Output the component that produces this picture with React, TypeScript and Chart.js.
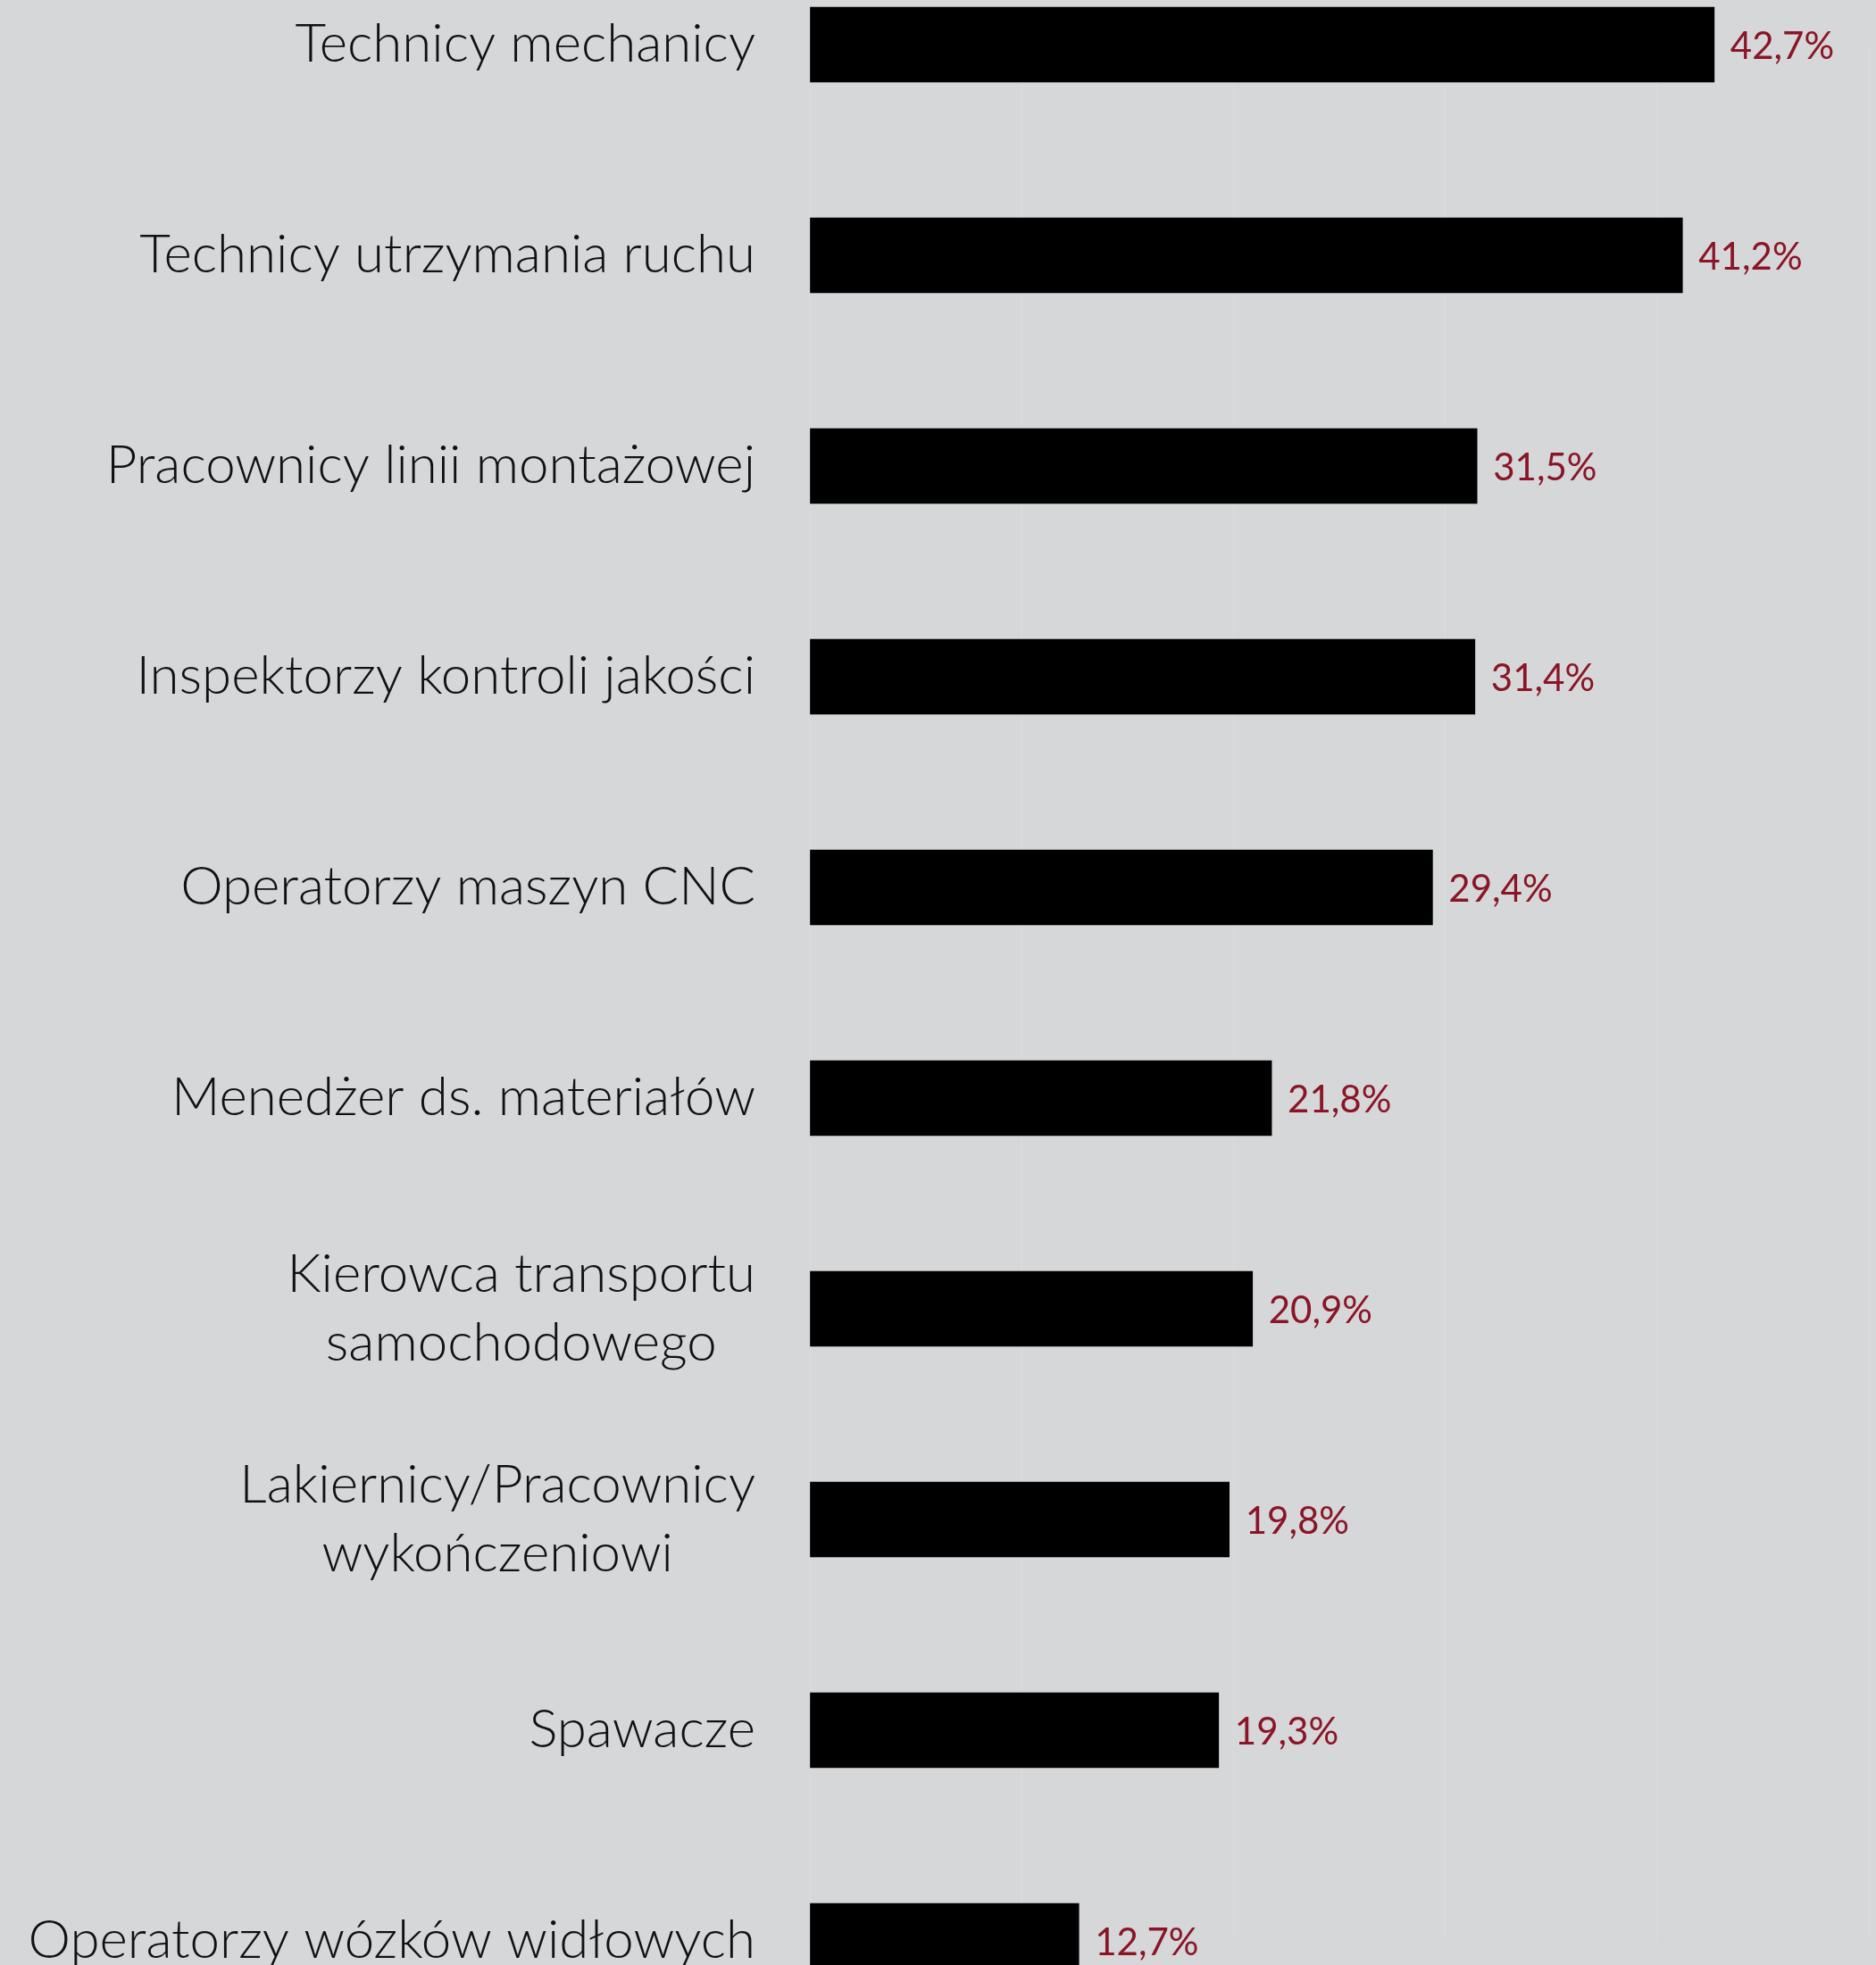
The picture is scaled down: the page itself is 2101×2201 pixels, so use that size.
import React, { useEffect, useRef } from 'react';
import { Chart, registerables } from 'chart.js';

Chart.register(...registerables);

const categories: string[][] = [
  ['Technicy mechanicy'],
  ['Technicy utrzymania ruchu'],
  ['Pracownicy linii montażowej'],
  ['Inspektorzy kontroli jakości'],
  ['Operatorzy maszyn CNC'],
  ['Menedżer ds. materiałów'],
  ['Kierowca transportu', 'samochodowego'],
  ['Lakiernicy/Pracownicy', 'wykończeniowi'],
  ['Spawacze'],
  ['Operatorzy wózków widłowych'],
];
const values: number[] = [42.7, 41.2, 31.5, 31.4, 29.4, 21.8, 20.9, 19.8, 19.3, 12.7];
const xTicks = { min: 0, max: 50, step: 10 };

const BG = '#D6D7D9';
const AXIS_LEFT = 907;
const LABEL_GAP = 61;
const LABEL_FONT = '300 60px Lato';
const LABEL_LINE_H = 77;
const VALUE_FONT = '400 42px Lato';
const VALUE_COLOR = '#8A1526';

const fmt = (v: number) => v.toFixed(1).replace('.', ',') + '%';

const categoryLabelPlugin = {
  id: 'categoryLabels',
  afterDraw(chart: any) {
    const { ctx } = chart;
    const yScale = chart.scales.y;
    const right = yScale.right - LABEL_GAP;
    ctx.save();
    ctx.font = LABEL_FONT;
    ctx.fillStyle = '#111111';
    ctx.textBaseline = 'middle';
    ctx.textAlign = 'center';
    categories.forEach((lines, i) => {
      const cy = yScale.getPixelForValue(i);
      const maxW = Math.max(...lines.map((l) => ctx.measureText(l).width));
      const cx = right - maxW / 2;
      lines.forEach((l, j) => {
        const ly = cy + (j - (lines.length - 1) / 2) * LABEL_LINE_H;
        ctx.fillText(l, cx, ly);
      });
    });
    ctx.restore();
  },
};

const valueLabelPlugin = {
  id: 'valueLabels',
  afterDatasetsDraw(chart: any) {
    const { ctx } = chart;
    const meta = chart.getDatasetMeta(0);
    ctx.save();
    ctx.font = VALUE_FONT;
    ctx.fillStyle = VALUE_COLOR;
    ctx.textBaseline = 'middle';
    ctx.textAlign = 'left';
    meta.data.forEach((el: any, i: number) => {
      ctx.fillText(fmt(values[i]), el.x + 18, el.y + 2);
    });
    ctx.restore();
  },
};

export default function App() {
  const ref = useRef<HTMLCanvasElement | null>(null);

  useEffect(() => {
    document.body.style.margin = '0';
    const canvas = ref.current!;
    const chart = new Chart(canvas, {
      type: 'bar',
      data: {
        labels: categories.map((c) => c.join(' ')),
        datasets: [
          {
            data: values,
            backgroundColor: '#000000',
            borderWidth: 0,
            barThickness: 84,
            clip: false as any,
          } as any,
        ],
      },
      options: {
        indexAxis: 'y',
        responsive: false,
        animation: false,
        devicePixelRatio: 1,
        layout: { padding: { top: 50, bottom: 27, left: 0, right: 8 } },
        plugins: { legend: { display: false }, tooltip: { enabled: false } },
        scales: {
          x: {
            type: 'linear',
            min: xTicks.min,
            max: xTicks.max,
            ticks: { display: false, stepSize: xTicks.step },
            grid: { color: '#DBDCDE', lineWidth: 1, drawTicks: false },
            border: { display: false },
          },
          y: {
            type: 'category',
            offset: false,
            ticks: { display: false },
            grid: { display: false, drawTicks: false },
            border: { display: false },
            afterFit(scale: any) {
              scale.width = AXIS_LEFT;
            },
          },
        },
      } as any,
      plugins: [categoryLabelPlugin, valueLabelPlugin],
    });
    return () => chart.destroy();
  }, []);

  return (
    <div style={{ position: 'absolute', left: 0, top: 0, width: 2101, height: 2201, background: BG, overflow: 'hidden' }}>
      <canvas ref={ref} width={2101} height={2201} style={{ width: 2101, height: 2201, display: 'block' }} />
    </div>
  );
}
